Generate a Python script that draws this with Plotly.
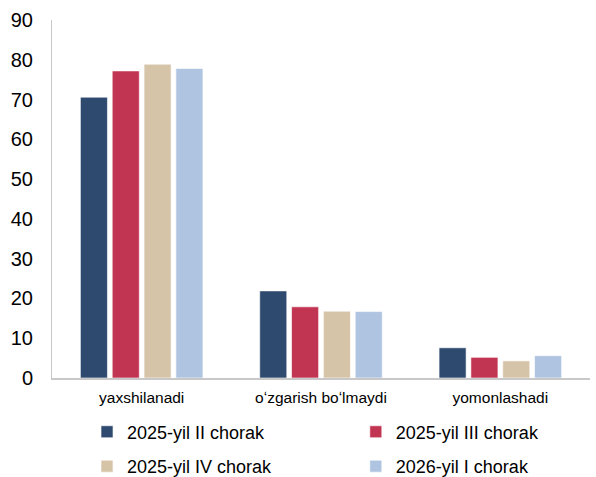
import plotly.graph_objects as go

categories = ["yaxshilanadi", "oʻzgarish boʻlmaydi", "yomonlashadi"]
series_names = ["2025-yil II chorak", "2025-yil III chorak", "2025-yil IV chorak", "2026-yil I chorak"]
q2_2025 = [70.6, 21.9, 7.6]
q3_2025 = [77.2, 17.9, 5.2]
q4_2025 = [78.9, 16.8, 4.3]
q1_2026 = [77.8, 16.7, 5.6]
colors = ["#2E4A6F", "#C13452", "#D6C4A8", "#AFC4E0"]
y_ticks = [0, 10, 20, 30, 40, 50, 60, 70, 80, 90]

legend_ids = ["legend", "legend2", "legend", "legend2"]

fig = go.Figure()
for i, (name, vals, col) in enumerate(zip(series_names, [q2_2025, q3_2025, q4_2025, q1_2026], colors)):
    fig.add_trace(go.Bar(x=categories, y=vals, name=name, marker_color=col,
                         legend=legend_ids[i], legendgroup="g%d" % i,
                         marker_line=dict(color="rgba(255,255,255,0.6)", width=1)))

leg_common = dict(orientation="v", xref="container", yref="container",
                  xanchor="left", yanchor="top", font=dict(size=18),
                  traceorder="grouped", tracegroupgap=8, itemclick=False,
                  borderwidth=0, bgcolor="rgba(0,0,0,0)")

fig.update_layout(
    width=596, height=477,
    margin=dict(l=52, r=6, t=20, b=99, autoexpand=False),
    paper_bgcolor="white", plot_bgcolor="white",
    barmode="group", bargap=0.29, bargroupgap=0.15,
    font=dict(family="Liberation Sans, Arial, sans-serif", color="#000000"),
    showlegend=True,
    legend=dict(x=0.146, y=0.133, **leg_common),
    legend2=dict(x=0.597, y=0.133, **leg_common),
    xaxis=dict(showline=True, linecolor="#C8C8C8", linewidth=2, ticks="",
               tickfont=dict(size=15.5), showgrid=False, ticklabelstandoff=4),
    yaxis=dict(range=[0, 90], tickvals=y_ticks, showline=True, linecolor="#C8C8C8",
               linewidth=1, ticks="", showgrid=False, zeroline=False,
               tickfont=dict(size=20), ticklabelstandoff=14),
)
fig.write_html("out.html", config={"displayModeBar": False},
               post_script="document.body.style.margin='0';")
